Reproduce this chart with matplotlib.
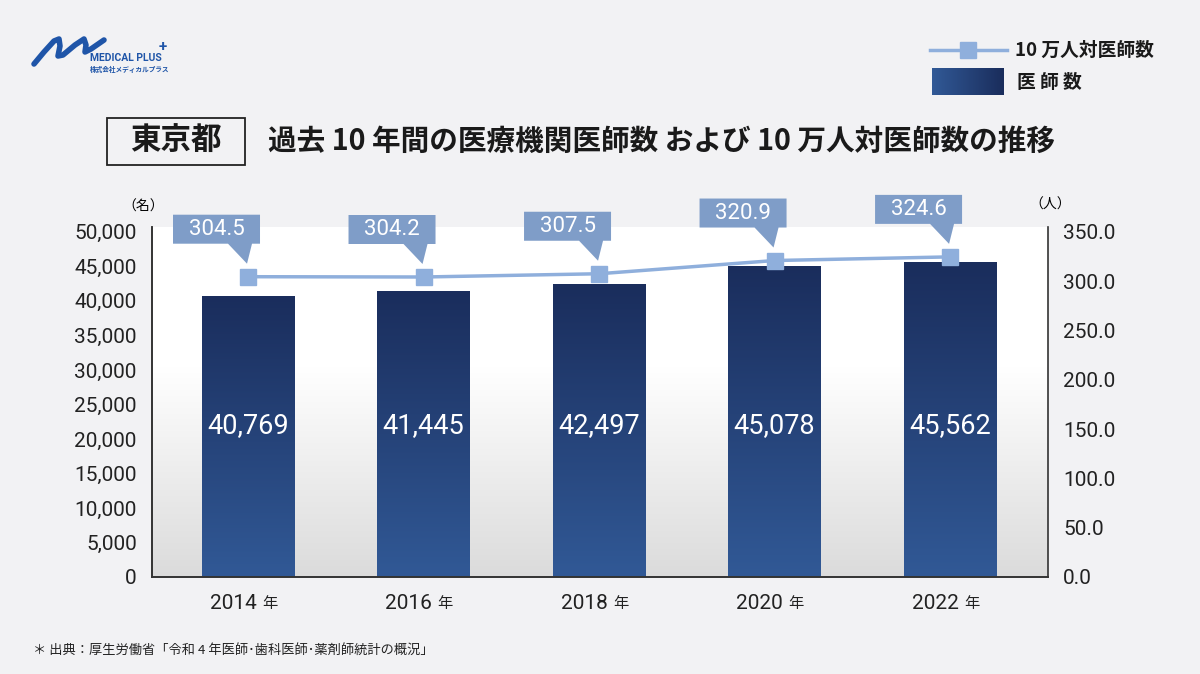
import numpy as np
import matplotlib.pyplot as plt
import matplotlib.transforms as mtransforms
from matplotlib.patches import Polygon, Rectangle
from matplotlib.lines import Line2D

plt.rcParams['font.family'] = ['Roboto', 'Noto Sans CJK JP']

# data
years = ['2014', '2016', '2018', '2020', '2022']
doctors = [40769, 41445, 42497, 45078, 45562]
per100k = [304.5, 304.2, 307.5, 320.9, 324.6]
left_ticks = list(range(0, 50001, 5000))
right_ticks = list(range(0, 351, 50))

W, H = 1200, 674
def fx(px):
    return px / W
def fy(py):
    return 1 - py / H

bg = '#f2f2f4'
bar_top = np.array([0x1a, 0x2d, 0x5c]) / 255
bar_bot = np.array([0x31, 0x59, 0x96]) / 255
line_col = '#8fafdc'
box_col = '#7f9dc8'

fig = plt.figure(figsize=(12, 6.74), dpi=100, facecolor=bg)
ax = fig.add_axes([fx(152), fy(577), 896 / W, 350 / H])
ax2 = ax.twinx()

x = np.arange(len(years))
ymax = 50700
xlim = (-0.547, 4.558)

# plot background gradient (white -> light grey at bottom)
t = np.linspace(0, 1, 256)
k = np.clip(t / 0.6, 0, 1)
grad = np.zeros((256, 1, 3))
for c in range(3):
    grad[:, 0, c] = 0.86 + (1.0 - 0.86) * k
ax.imshow(grad, extent=[xlim[0], xlim[1], 0, ymax], origin='lower', aspect='auto', zorder=0)

# bars with vertical gradient
bars = ax.bar(x, doctors, width=0.525, color='none', zorder=2)
bg_bar = np.zeros((256, 1, 3))
for c in range(3):
    bg_bar[:, 0, c] = bar_bot[c] + (bar_top[c] - bar_bot[c]) * t
for b in bars:
    x0 = b.get_x()
    im = ax.imshow(bg_bar, extent=[x0, x0 + b.get_width(), 0, b.get_height()],
                   origin='lower', aspect='auto', zorder=2)
    im.set_clip_path(b)

for i, v in enumerate(doctors):
    ax.text(i, 22000, f'{v:,}', color='white', fontsize=19.5, ha='center', va='center', zorder=4)

# line on right axis
ax2.plot(x, per100k, color=line_col, lw=2.5, marker='s', ms=12, zorder=3)

# callouts
for i, v in enumerate(per100k):
    tr = fig.dpi_scale_trans + mtransforms.ScaledTranslation(i, v, ax2.transData)
    verts = [(-0.75, 0.33), (-0.20, 0.33), (-0.01, 0.13), (0.04, 0.33),
             (0.12, 0.33), (0.12, 0.62), (-0.75, 0.62)]
    ax2.add_patch(Polygon(verts, closed=True, transform=tr, facecolor=box_col,
                          edgecolor='none', clip_on=False, zorder=5))
    ax2.text(-0.315, 0.47, f'{v:.1f}', transform=tr, color='white', fontsize=16,
             ha='center', va='center', zorder=6, clip_on=False)

ax.set_xlim(*xlim)
ax.set_ylim(0, ymax)
ax2.set_ylim(0, 350 * ymax / 50000)

ax.set_xticks(x)
ax.set_xticklabels([''] * len(x))
ax.set_yticks(left_ticks)
ax.set_yticklabels([f'{v:,}' for v in left_ticks])
ax2.set_yticks(right_ticks)
ax2.set_yticklabels([f'{v:.1f}' for v in right_ticks])
ax.tick_params(axis='x', length=0)
ax.tick_params(axis='y', length=0, pad=11, labelsize=15, labelcolor='#222222')
ax2.tick_params(axis='y', length=0, pad=11, labelsize=15, labelcolor='#222222')

for a in (ax, ax2):
    a.spines['top'].set_visible(False)
    for s in ('left', 'right', 'bottom'):
        a.spines[s].set_color('#333333')
        a.spines[s].set_linewidth(1.2)
ax.spines['right'].set_visible(False)

# x labels: year digits + smaller 年
for i, yr in enumerate(years):
    ax.annotate(yr, xy=(i, 0), xycoords=ax.get_xaxis_transform(), xytext=(6, -19),
                textcoords='offset points', ha='right', va='center', fontsize=15, color='#222222')
    ax.annotate('年', xy=(i, 0), xycoords=ax.get_xaxis_transform(), xytext=(10, -19),
                textcoords='offset points', ha='left', va='center', fontsize=11, color='#222222',
                family='Noto Sans CJK JP')

# unit labels
fig.text(fx(143), fy(207), '（名）', fontsize=10, ha='center', va='center', family='Noto Sans CJK JP')
fig.text(fx(1050), fy(205), '（人）', fontsize=10, ha='center', va='center', family='Noto Sans CJK JP')

# title
fig.add_artist(Rectangle((fx(107), fy(165)), 138 / W, 47 / H, transform=fig.transFigure,
                         fill=False, edgecolor='#222222', lw=1.3))
fig.text(fx(176), fy(141), '東京都', fontsize=22, weight='bold', ha='center', va='center',
         family='Noto Sans CJK JP', color='#1a1a1a')
fig.text(fx(268), fy(141), '過去 10 年間の医療機関医師数 および 10 万人対医師数の推移', fontsize=20.6,
         weight='bold', ha='left', va='center', family='Noto Sans CJK JP', color='#1a1a1a')

# legend
fig.add_artist(Line2D([fx(930), fx(1007)], [fy(50), fy(50)], transform=fig.transFigure,
                      color=line_col, lw=2.5))
fig.add_artist(Line2D([fx(968)], [fy(50)], transform=fig.transFigure, color=line_col,
                      marker='s', ms=11, lw=0))
fig.text(fx(1015), fy(50), '10 万人対医師数', fontsize=13.5, weight='bold', va='center',
         family='Noto Sans CJK JP', color='#1a1a1a')
lax = fig.add_axes([fx(932), fy(95), 71 / W, 27 / H])
hg = np.zeros((1, 64, 3))
for c in range(3):
    hg[0, :, c] = bar_bot[c] + (bar_top[c] - bar_bot[c]) * np.linspace(0, 1, 64)
lax.imshow(hg, aspect='auto')
lax.axis('off')
fig.text(fx(1017), fy(83), '医 師 数', fontsize=13.5, weight='bold', va='center',
         family='Noto Sans CJK JP', color='#1a1a1a')

# logo
logo_blue = '#1f55a8'
sw = [(34, 64), (44, 52), (54, 41), (59, 39), (60, 46), (58, 56), (63, 55), (75, 45),
      (84, 39), (86, 45), (85, 52), (91, 49), (104, 40)]
fig.add_artist(Line2D([fx(p[0]) for p in sw], [fy(p[1]) for p in sw], transform=fig.transFigure,
                      color=logo_blue, lw=4, solid_capstyle='round', solid_joinstyle='round'))
fig.text(fx(90), fy(58), 'MEDICAL PLUS', fontsize=7.5, weight='bold', color=logo_blue, va='center')
fig.text(fx(163), fy(47), '+', fontsize=11, weight='bold', color=logo_blue, ha='center', va='center')
fig.text(fx(90), fy(69), '株式会社メディカルプラス', fontsize=4.8, weight='bold', color=logo_blue,
         va='center', family='Noto Sans CJK JP')

# footer
fig.text(fx(33), fy(650), '＊ 出典：厚生労働省「令和 4 年医師･歯科医師･薬剤師統計の概況」', fontsize=9.5,
         va='center', family='Noto Sans CJK JP', color='#222222')

fig.savefig('out.png', dpi=100, facecolor=bg)
